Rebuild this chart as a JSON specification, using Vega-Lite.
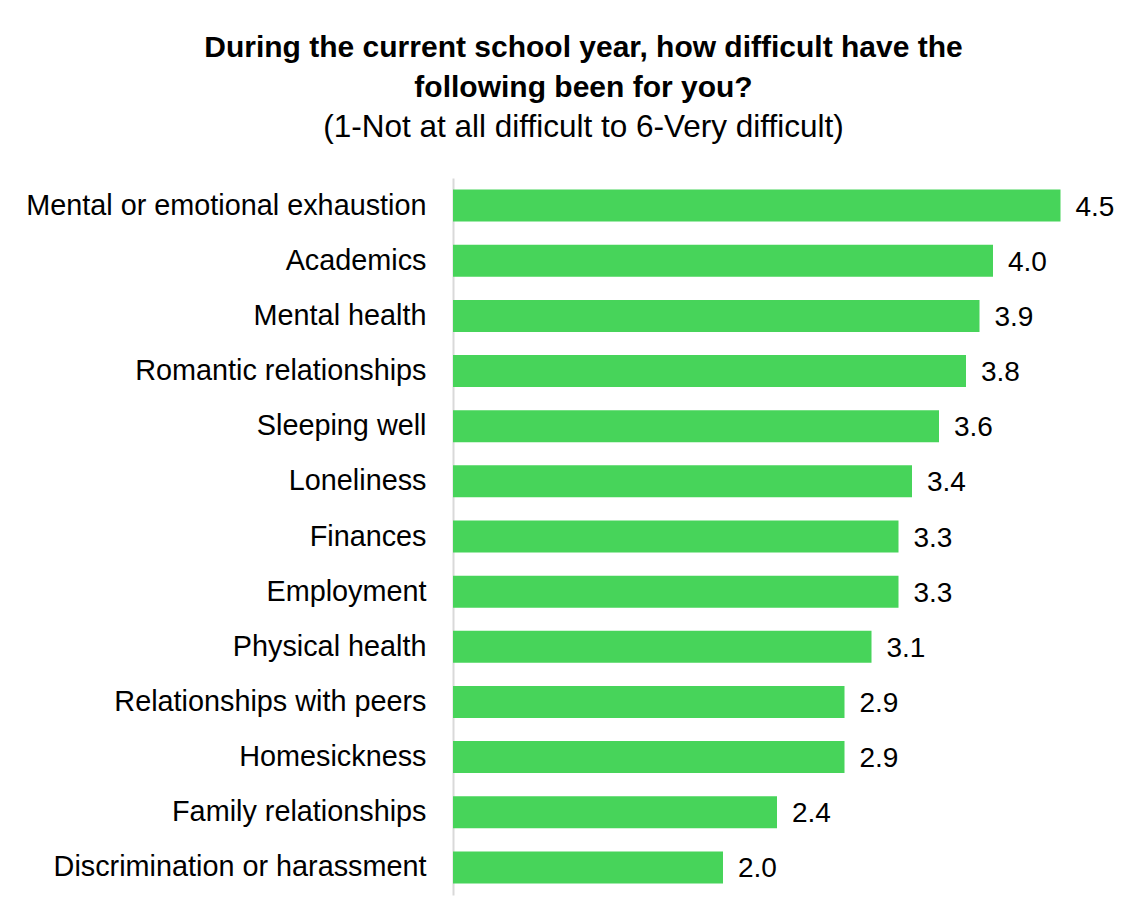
{
  "$schema": "https://vega.github.io/schema/vega-lite/v6.json",
  "autosize": {"type": "none"},
  "width": 675,
  "height": 717,
  "padding": {"left": 453, "top": 178, "right": 16, "bottom": 23},
  "background": "white",
  "title": {
    "text": ["During the current school year, how difficult have the", "following been for you?"],
    "subtitle": "(1-Not at all difficult to 6-Very difficult)",
    "anchor": "middle",
    "frame": "group",
    "dx": -207,
    "offset": 35,
    "font": "Liberation Sans",
    "fontSize": 30,
    "fontWeight": "bold",
    "lineHeight": 40,
    "color": "#000000",
    "subtitleFont": "Liberation Sans",
    "subtitleFontSize": 31.5,
    "subtitleColor": "#000000",
    "subtitlePadding": 9,
    "subtitleLineHeight": 33
  },
  "data": {
    "values": [
      {"item": "Mental or emotional exhaustion", "value": 4.5},
      {"item": "Academics", "value": 4.0},
      {"item": "Mental health", "value": 3.9},
      {"item": "Romantic relationships", "value": 3.8},
      {"item": "Sleeping well", "value": 3.6},
      {"item": "Loneliness", "value": 3.4},
      {"item": "Finances", "value": 3.3},
      {"item": "Employment", "value": 3.3},
      {"item": "Physical health", "value": 3.1},
      {"item": "Relationships with peers", "value": 2.9},
      {"item": "Homesickness", "value": 2.9},
      {"item": "Family relationships", "value": 2.4},
      {"item": "Discrimination or harassment", "value": 2.0}
    ]
  },
  "encoding": {
    "y": {
      "field": "item",
      "type": "nominal",
      "sort": null,
      "scale": {"paddingInner": 0.42, "paddingOuter": 0.21},
      "axis": {
        "title": null,
        "ticks": false,
        "labelPadding": 27,
        "labelFont": "Liberation Sans",
        "labelFontSize": 28.8,
        "labelColor": "#000000",
        "labelLimit": 500,
        "domainColor": "#d9d9d9",
        "domainWidth": 2,
        "grid": false
      }
    },
    "x": {
      "field": "value",
      "type": "quantitative",
      "scale": {"domain": [0, 5]},
      "axis": null
    }
  },
  "layer": [
    {"mark": {"type": "bar", "color": "#47D45A"}},
    {
      "mark": {"type": "text", "align": "left", "dx": 15, "font": "Liberation Sans", "fontSize": 28, "color": "#000000", "baseline": "middle", "dy": 2},
      "encoding": {"text": {"field": "value", "type": "quantitative", "format": ".1f"}}
    }
  ],
  "config": {"view": {"stroke": null}}
}
